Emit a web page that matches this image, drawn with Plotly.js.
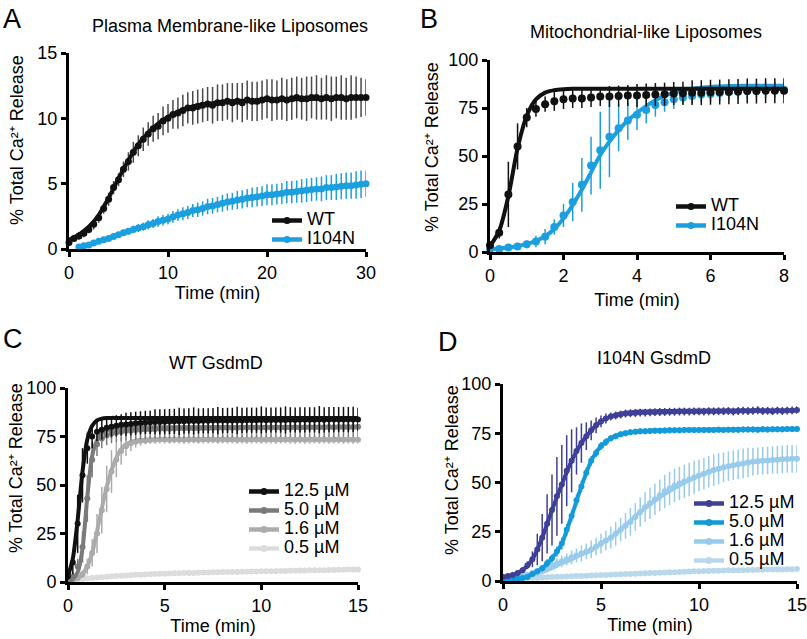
<!DOCTYPE html>
<html><head><meta charset="utf-8">
<script src="https://cdn.plot.ly/plotly-3.0.1.min.js"></script>
<style>html,body{margin:0;padding:0;background:#fff}</style>
</head><body><div id="chart" style="width:807px;height:639px"></div>
<script>
// ---------- Panel A : Plasma Membrane-like Liposomes ----------
const tA = [0,0.5,1,1.5,2,2.5,3,3.5,4,4.5,5,5.5,6,6.5,7,7.5,8,8.5,9,9.5,10,10.5,11,11.5,12,12.5,13,13.5,14,14.5,15,15.5,16,16.5,17,17.5,18,18.5,19,19.5,20,20.5,21,21.5,22,22.5,23,23.5,24,24.5,25,25.5,26,26.5,27,27.5,28,28.5,29,29.5,30];
const aWT = [0.5,0.8,1.0,1.2,1.5,1.9,2.4,3.1,3.8,4.7,
  5.3,6.1,6.7,7.4,7.9,8.4,8.8,9.2,9.4,9.8,
  10.0,10.3,10.4,10.6,10.8,10.8,10.9,11.0,11.1,11.0,
  11.2,11.2,11.3,11.2,11.3,11.2,11.4,11.3,11.3,11.4,
  11.5,11.4,11.4,11.5,11.4,11.5,11.6,11.5,11.5,11.6,
  11.6,11.5,11.6,11.5,11.6,11.6,11.5,11.6,11.6,11.6,
  11.6];
const aWTerr = [0.2,0.2,0.3,0.3,0.3,0.4,0.4,0.4,0.5,0.5,
  0.5,0.6,0.7,0.8,0.8,0.9,0.9,1.0,1.0,1.1,
  1.1,1.1,1.2,1.2,1.2,1.3,1.3,1.3,1.3,1.4,
  1.4,1.4,1.4,1.5,1.4,1.5,1.5,1.5,1.5,1.5,
  1.5,1.6,1.5,1.6,1.6,1.6,1.6,1.6,1.7,1.6,
  1.7,1.6,1.7,1.7,1.6,1.7,1.6,1.7,1.6,1.5,
  1.4];
const aMut = [null,null,
  0.15,0.25,0.3,0.45,0.6,0.7,0.8,0.95,1.1,1.25,
  1.35,1.5,1.6,1.7,1.85,1.95,2.1,2.2,2.3,2.45,
  2.6,2.7,2.8,2.95,3.0,3.1,3.25,3.3,3.4,3.5,
  3.6,3.65,3.75,3.8,3.9,3.95,4.0,4.05,4.15,4.15,
  4.2,4.25,4.35,4.35,4.4,4.45,4.5,4.55,4.6,4.6,
  4.7,4.7,4.75,4.8,4.85,4.85,4.9,4.95,5.0];
const aMutErr = [0,0,
  0.1,0.1,0.1,0.1,0.15,0.15,0.2,0.2,0.2,0.25,
  0.25,0.3,0.3,0.3,0.35,0.35,0.4,0.4,0.4,0.45,
  0.45,0.5,0.5,0.5,0.55,0.55,0.6,0.6,0.6,0.65,
  0.65,0.65,0.7,0.7,0.7,0.75,0.75,0.75,0.8,0.8,
  0.8,0.8,0.85,0.85,0.85,0.9,0.9,0.9,0.9,0.95,
  0.95,0.95,1.0,1.0,1.0,1.0,1.05,1.05,1.0];
const tFitAwt = [0,1,2,3,4,5,6,7,8,9,10,11,12,13,14,15,16,18,20,22,25,30];
const fitAwt  = [0.7,1.1,1.7,2.6,3.9,5.4,6.8,8.0,8.9,9.6,10.1,10.5,10.8,11.0,11.1,11.2,11.3,11.35,11.4,11.45,11.5,11.55];
const tFitAmut = [1,2,3,4,5,6,7,8,9,10,11,12,13,14,15,16,17,18,19,20,22,24,26,28,30];
const fitAmut  = [0.15,0.35,0.6,0.85,1.1,1.35,1.6,1.85,2.1,2.35,2.6,2.8,3.0,3.2,3.4,3.55,3.7,3.85,3.95,4.1,4.35,4.55,4.7,4.85,5.0];

// ---------- Panel B : Mitochondrial-like Liposomes ----------
const tB = [0,0.25,0.5,0.75,1,1.25,1.5,1.75,2,2.25,2.5,2.75,3,3.25,3.5,3.75,4,4.25,4.5,4.75,5,5.25,5.5,5.75,6,6.25,6.5,6.75,7,7.25,7.5,7.75,8];
const bWT = [3.5,10,30,55,70,74.5,77,78.5,79.5,80,80,80.5,81,81,81.2,81.5,81.5,81.8,82,82.2,82.5,82.7,83,83,83.2,83.3,83.5,83.6,83.8,83.8,84,84,84];
const bWTerr = [2,3,17,12,5,4,4,5,5,5,5,5,5,5.5,5.5,5.5,6,6,6,6,6,6,6.5,6.5,6.5,6.5,6.5,6.5,6.5,6.5,6.5,6.5,6.5];
const bWTfit = [3,11,29,54,71,79.5,83,84.3,84.8,85,85,85,85,85,85,85,85,85,85,85,85,85,85,85,85,85,85,85,85,85,85,85,85];
const bMut = [1.5,1.5,2.3,2.8,4,5.5,8,13,19,26,35,45,53,60,64.5,68.5,71.5,74,76.5,78,79.5,80.5,81.3,82,82.3,82.8,83.2,83.5,83.8,84,84.2,84.4,84.5];
const bMutErr = [1,1,1.5,1.5,2,3,4,4,6,10,14,15,20,21,12,10,8,7,6,5,5,4,4,4,4,4,4,4,4,4,4,4,4];
const bMutFit = [1.5,1.8,2.3,3,4.2,5.8,8.2,12,17.5,24.5,32.5,41.5,50.5,57.5,63.5,68.5,72.5,76,79,81.3,83,84.2,85,85.6,86,86.2,86.4,86.5,86.6,86.6,86.6,86.6,86.6];

// ---------- Panels C & D : concentration series ----------
const tCD = [0,0.25,0.5,0.75,1,1.25,1.5,1.75,2,2.25,2.5,2.75,3,3.25,3.5,3.75,4,4.25,4.5,4.75,5,5.25,5.5,5.75,6,6.25,6.5,6.75,7,7.25,7.5,7.75,8,8.25,8.5,8.75,9,9.25,9.5,9.75,10,10.25,10.5,10.75,11,11.25,11.5,11.75,12,12.25,12.5,12.75,13,13.25,13.5,13.75,14,14.25,14.5,14.75,15];
const concLabels = ['12.5 µM','5.0 µM','1.6 µM','0.5 µM'];

const c125 = [3,10,30,55,69,75,77.5,78.5,79.5,80,
  80.5,81,81.2,81.5,81.8,82,82.2,82.3,82.5,82.5,
  82.6,82.7,82.8,82.8,82.9,83,83,83,83.1,83.1,
  83.2,83.2,83.2,83.3,83.3,83.3,83.3,83.4,83.4,83.4,
  83.5,83.4,83.5,83.5,83.5,83.5,83.6,83.5,83.6,83.6,
  83.6,83.6,83.7,83.6,83.7,83.7,83.7,83.8,83.7,83.8,
  83.8];
const c125err = [2,6,15,14,8,6,5,5,5,5.5,
  5.5,5.5,6,6,6,6,6,6,6.5,6.5,
  6.5,6.5,6.5,7,6.5,6.5,7,6.5,6.5,6.5,
  6.5,7,6.5,6.5,6.5,7,6.5,6.5,6.5,6.5,
  7,6.5,6.5,6.5,6.5,7,6.5,6.5,6.5,6.5,
  6.5,6.5,7,6.5,6.5,6.5,6.5,6.5,6.5,6.5,
  6];
const c50 = [1.5,3,8,18,43,63,71,74,75.5,76.5,
  77,77.5,78,78,78.3,78.5,78.6,78.8,78.8,79,
  79,79,79.1,79.2,79.2,79.3,79.3,79.3,79.4,79.4,
  79.4,79.5,79.5,79.5,79.5,79.5,79.6,79.6,79.6,79.6,
  79.6,79.7,79.6,79.7,79.7,79.7,79.7,79.8,79.7,79.8,
  79.8,79.8,79.8,79.8,79.9,79.8,79.9,79.9,79.9,79.9,
  80];
const c50err = [1,2,4,8,12,9,6,5,5,5,
  5,5,5,5,5,5,5,5,5,5,
  5,5,5,5,5,5,5,5,5,5,
  5,5,5,5,5,5,5,5,5,5,
  5,5,5,5,5,5,5,5,5,5,
  5,5,5,5,5,5,5,5,5,5,
  5];
const c16 = [0.5,1,2,4,8,15,25,37,48,57,
  63,67.5,70,71.5,72.3,72.8,73,73.2,73.3,73.4,
  73.4,73.3,73.5,73.4,73.3,73.4,73.5,73.3,73.4,73.4,
  73.5,73.3,73.4,73.4,73.5,73.3,73.4,73.3,73.4,73.5,
  73.3,73.4,73.4,73.3,73.4,73.5,73.4,73.3,73.4,73.3,
  73.4,73.4,73.3,73.4,73.3,73.4,73.4,73.3,73.4,73.3,
  73.3];
const c16err = [0.5,0.5,1,2,4,7,10,12,12,11,
  9,7,5,4,3,2.5,2,2,2,2,
  2,2,2,2,2,2,2,2,2,2,
  2,2,2,2,2,2,2,2,2,2,
  2,2,2,2,2,2,2,2,2,2,
  2,2,2,2,2,2,2,2,2,2,
  2];
const c05 = [0.5,1,1.3,1.6,1.9,2.1,2.3,2.5,2.7,2.9,
  3.1,3.2,3.4,3.5,3.7,3.8,3.9,4.0,4.1,4.2,
  4.3,4.4,4.5,4.5,4.6,4.7,4.7,4.8,4.9,4.9,
  5.0,5.0,5.1,5.1,5.2,5.2,5.3,5.3,5.4,5.4,
  5.5,5.5,5.6,5.6,5.7,5.7,5.8,5.8,5.9,5.9,
  6.0,6.0,6.1,6.1,6.2,6.2,6.3,6.3,6.4,6.4,
  6.5];
const c05err = [0.3,0.3,0.3,0.4,0.4,0.4,0.4,0.5,0.5,0.5,
  0.5,0.5,0.5,0.5,0.5,0.5,0.5,0.5,0.5,0.5,
  0.5,0.5,0.5,0.5,0.5,0.5,0.5,0.5,0.5,0.5,
  0.5,0.5,0.5,0.5,0.5,0.5,0.5,0.5,0.5,0.5,
  0.5,0.5,0.5,0.5,0.5,0.5,0.5,0.5,0.5,0.5,
  0.5,0.5,0.5,0.5,0.5,0.5,0.5,0.5,0.5,0.5,
  0.5];
const tFitC = [0,0.25,0.5,0.75,1,1.25,1.5,1.75,2,2.25,2.5,2.75,3,3.5,4,5,6,8,10,12,15];
const fitC125 = [3,12,32,57,73.5,80.5,83.3,84.2,84.5,84.6,84.6,84.6,84.6,84.6,84.6,84.6,84.6,84.6,84.6,84.6,84.6];
const fitC50  = [0.5,1.5,5,17,44,65,73,76.5,78,78.8,79.2,79.5,79.6,79.7,79.8,79.8,79.8,79.8,79.8,79.8,79.8];
const fitC16  = [0.5,1,2,4,8,15,26,38,49,57.5,64,68.5,71,72.8,73.3,73.5,73.5,73.5,73.5,73.5,73.5];
const fitC05  = [0.5,1,1.3,1.6,1.9,2.1,2.3,2.5,2.7,2.9,3.1,3.2,3.4,3.7,4.0,4.4,4.8,5.2,5.6,6.0,6.5];

const d125 = [2,2.5,3,4,5.5,8,11,16,22,29,
  36,43,49,56,61,66,70,73.5,76.5,79,
  81,82.5,83.5,84,84.5,85,85.2,85.3,85.5,85.5,
  85.6,85.7,85.8,85.8,85.9,85.9,86,86,86,86.1,
  86.1,86,86.2,86.1,86.2,86.2,86.3,86,86.3,86.4,
  86.3,86.4,86.7,86.3,86.4,86.2,86.5,86.3,86.5,86.6,
  86.8];
const d125err = [0.5,0.5,0.5,1,1.5,2,4,8,12,15,
  18,20,20,18,16,12,10,7,5,4,
  3,2.5,2,2,2,2,2,2,2,2,
  2,2,2,2,2,2,2,2,2,2,
  2,2,2,2,2,2,2,2,2,2,
  2,2,2,2,2,2,2,2,2,2,
  2];
const d50 = [0.5,0.8,1,1.2,1.5,2,3.5,5,6.5,9,
  11.5,15,19,26,33,41,48,55,61,65,
  68.5,70.5,72.5,73.5,74.5,75,75.5,75.8,76,76,
  76.2,76.3,76.3,76.4,76.5,76.5,76.5,76.6,76.6,76.6,
  76.7,76.6,76.7,76.7,76.8,76.7,76.8,76.8,76.8,76.9,
  76.9,76.9,76.8,77,76.9,77,77,77,77.1,77.1,
  77.2];
const d50err = [0.3,0.3,0.3,0.5,0.5,0.5,1,1,1.5,2,
  2,2.5,3,3,3,3,3,2.5,2.5,2,
  2,2,1.5,1.5,1.5,1.5,1.5,1.5,1.5,1.5,
  1.5,1.5,1.5,1.5,1.5,1.5,1.5,1.5,1.5,1.5,
  1.5,1.5,1.5,1.5,1.5,1.5,1.5,1.5,1.5,1.5,
  1.5,1.5,1.5,1.5,1.5,1.5,1.5,1.5,1.5,1.5,
  1.5];
const d16 = [1,1.3,1.8,2.2,2.6,3.2,4,4.8,5.8,6.8,
  8,9,10,11,12,13,14,15,16,17.5,
  19,20.5,22,24,26,28,30,32.5,35,37.5,
  39.5,41.5,43.5,45.5,47,48.5,49.5,50.5,51.5,52.5,
  53.5,54.5,55.5,56.3,57,57.7,58.3,58.8,59.3,59.7,
  60.2,60.5,60.8,61,61.2,61.4,61.6,61.8,61.9,62,
  62];
const d16err = [0.5,0.5,0.5,1,1,1,1.5,1.5,2,2,
  2.5,2.5,3,3,3.5,3.5,4,4,4.5,4.5,
  5,5,5.5,6,6,6.5,7,7,7.5,7.5,
  8,8,8,8.5,8.5,8.5,8.5,8.5,8.5,8.5,
  8,8,8,8,8,7.5,7.5,7.5,7.5,7.5,
  7.5,7,7,7,7,7,7,7,7,7,
  7];
const d05 = [1,1.1,1.2,1.3,1.4,1.5,1.6,1.7,1.8,1.9,
  2,2.1,2.2,2.3,2.4,2.5,2.6,2.7,2.8,2.9,
  3,3.1,3.2,3.3,3.4,3.5,3.6,3.7,3.8,3.9,
  4,4.1,4.2,4.3,4.4,4.5,4.6,4.7,4.8,4.9,
  5,5.1,5.1,5.2,5.2,5.3,5.4,5.4,5.5,5.5,
  5.6,5.6,5.7,5.7,5.8,5.8,5.9,5.9,6,6,
  6.1];
const d05err = [0.3,0.3,0.3,0.3,0.3,0.4,0.4,0.4,0.4,0.4,
  0.5,0.5,0.5,0.5,0.5,0.5,0.5,0.5,0.5,0.5,
  0.5,0.5,0.5,0.5,0.5,0.5,0.5,0.5,0.5,0.5,
  0.5,0.5,0.5,0.5,0.5,0.5,0.5,0.5,0.5,0.5,
  0.5,0.5,0.5,0.5,0.5,0.5,0.5,0.5,0.5,0.5,
  0.5,0.5,0.5,0.5,0.5,0.5,0.5,0.5,0.5,0.5,
  0.5];
const tFitD = [0,0.5,1,1.5,2,2.5,3,3.5,4,4.5,5,5.5,6,6.5,7,8,9,10,11,12,13,14,15];
const fitD125 = [2,3,5.5,11,22,36,49,61,70,76.5,81,83.5,85,85.6,86,86.3,86.4,86.5,86.5,86.5,86.5,86.5,86.5];
const fitD50  = [0.5,0.8,1.5,3.5,6.5,11.5,19,33,48,61,68.5,72.5,74.5,75.5,76,76.5,76.7,76.8,76.9,77,77,77,77];
const fitD16  = [1,1.5,2.2,3,4.5,6.5,9,11,13.5,15.5,19,22,26,30.5,35,42.5,48.5,53.5,57,59.3,60.8,61.6,62];
const fitD05  = [1,1.2,1.4,1.6,1.8,2,2.2,2.4,2.6,2.8,3,3.2,3.4,3.6,3.8,4.2,4.6,5,5.3,5.5,5.7,5.9,6.1];

// ---------- styling ----------
const BLACK = '#111111', BLUE = '#1b9fdf';
const greyC = ['#111111','#7a7a7a','#ababab','#dcdcdc'];
const blueD = ['#3e3f96','#129bd8','#98cbec','#b9d8ec'];
const Y_TITLE = '% Total Ca²⁺ Release';

function dataTrace(ax, t, y, err, color, ecolor, size) {
  return {type:'scatter', mode:'markers', x:t, y:y, xaxis:'x'+ax, yaxis:'y'+ax,
    marker:{color:color, size:size}, cliponaxis:false, showlegend:false, hoverinfo:'skip',
    error_y:{type:'data', array:err, visible:true, color:ecolor, thickness:1.5, width:0}};
}
function fitTrace(ax, t, y, color, w) {
  return {type:'scatter', mode:'lines', x:t, y:y, xaxis:'x'+ax, yaxis:'y'+ax,
    line:{color:color, width:w, shape:'spline', smoothing:0.7}, showlegend:false, hoverinfo:'skip', cliponaxis:false};
}
function legendTrace(ax, name, color, leg, size) {
  return {type:'scatter', mode:'lines+markers', x:[null], y:[null], xaxis:'x'+ax, yaxis:'y'+ax,
    name:'<span style="font-size:18px">'+name+'</span>', legend:leg,
    line:{color:color, width:4.5}, marker:{color:color, size:size}, showlegend:true, hoverinfo:'skip'};
}

const traces = [];
// A
traces.push(dataTrace('', tA, aMut, aMutErr, BLUE, BLUE, 7));
traces.push(fitTrace('', tFitAmut, fitAmut, BLUE, 4));
traces.push(dataTrace('', tA, aWT, aWTerr, BLACK, '#4a4a4a', 7));
traces.push(fitTrace('', tFitAwt, fitAwt, BLACK, 4));
traces.push(legendTrace('', 'WT', BLACK, 'legend', 7));
traces.push(legendTrace('', 'I104N', BLUE, 'legend', 7));
// B
traces.push(dataTrace('2', tB, bMut, bMutErr, BLUE, BLUE, 8));
traces.push(fitTrace('2', tB, bMutFit, BLUE, 4));
traces.push(dataTrace('2', tB, bWT, bWTerr, BLACK, BLACK, 8));
traces.push(fitTrace('2', tB, bWTfit, BLACK, 4));
traces.push(legendTrace('2', 'WT', BLACK, 'legend2', 7));
traces.push(legendTrace('2', 'I104N', BLUE, 'legend2', 7));
// C (lightest drawn first)
const cSeries = [[c125,c125err,fitC125],[c50,c50err,fitC50],[c16,c16err,fitC16],[c05,c05err,fitC05]];
for (let i = 3; i >= 0; i--) {
  traces.push(dataTrace('3', tCD, cSeries[i][0], cSeries[i][1], greyC[i], greyC[i], 6));
  traces.push(fitTrace('3', tFitC, cSeries[i][2], greyC[i], 4));
}
for (let i = 0; i < 4; i++) traces.push(legendTrace('3', concLabels[i], greyC[i], 'legend3', 7));
// D
const dSeries = [[d125,d125err,fitD125],[d50,d50err,fitD50],[d16,d16err,fitD16],[d05,d05err,fitD05]];
for (let i = 3; i >= 0; i--) {
  traces.push(dataTrace('4', tCD, dSeries[i][0], dSeries[i][1], blueD[i], blueD[i], 6));
  traces.push(fitTrace('4', tFitD, dSeries[i][2], blueD[i], 4));
}
for (let i = 0; i < 4; i++) traces.push(legendTrace('4', concLabels[i], blueD[i], 'legend4', 7));

const W = 807, H = 639;
const px = v => v / W, py = v => 1 - v / H;
const axBase = {showline:true, linecolor:'#000', linewidth:3, ticks:'outside', ticklen:5, tickwidth:3,
  tickcolor:'#000', showgrid:false, zeroline:false, tickfont:{size:18, color:'#000'}, automargin:false,
  fixedrange:true, ticklabeloverflow:'allow'};
const xTitle = (s) => ({text:'Time (min)', font:{size:18, color:'#000'}, standoff:s});

const legBase = {xanchor:'left', yanchor:'top', bgcolor:'rgba(0,0,0,0)', borderwidth:0,
  font:{size:12, color:'#000'}, itemwidth:30, tracegroupgap:0, itemclick:false, itemdoubleclick:false};

function note(text, x, y, size, angle) {
  return {text:text, x:px(x), y:py(y), xref:'paper', yref:'paper', showarrow:false,
    font:{size:size, color:'#000'}, xanchor:'center', yanchor:'middle', textangle:angle || 0};
}

const layout = {
  width:W, height:H, margin:{l:0, r:0, t:0, b:0}, paper_bgcolor:'#fff', plot_bgcolor:'rgba(0,0,0,0)',
  font:{family:'Liberation Sans, Arial, sans-serif', color:'#000'},
  showlegend:true, hovermode:false,
  xaxis: Object.assign({}, axBase, {domain:[px(69), px(366)], range:[0,30], tickvals:[0,10,20,30], anchor:'y', title:xTitle(5)}),
  yaxis: Object.assign({}, axBase, {domain:[py(249), py(53)], range:[0,15], tickvals:[0,5,10,15], anchor:'x'}),
  xaxis2: Object.assign({}, axBase, {domain:[px(490), px(784)], range:[0,8], tickvals:[0,2,4,6,8], anchor:'y2', title:xTitle(9)}),
  yaxis2: Object.assign({}, axBase, {domain:[py(252), py(60)], range:[0,100], tickvals:[0,25,50,75,100], anchor:'x2'}),
  xaxis3: Object.assign({}, axBase, {domain:[px(68), px(358)], range:[0,15], tickvals:[0,5,10,15], anchor:'y3', title:xTitle(0)}),
  yaxis3: Object.assign({}, axBase, {domain:[py(582), py(388)], range:[0,100], tickvals:[0,25,50,75,100], anchor:'x3'}),
  xaxis4: Object.assign({}, axBase, {domain:[px(503), px(797)], range:[0,15], tickvals:[0,5,10,15], anchor:'y4', title:xTitle(5)}),
  yaxis4: Object.assign({}, axBase, {domain:[py(581), py(384)], range:[0,100], tickvals:[0,25,50,75,100], anchor:'x4'}),
  legend:  Object.assign({}, legBase, {x:px(267), y:py(206)}),
  legend2: Object.assign({}, legBase, {x:px(671), y:py(192)}),
  legend3: Object.assign({}, legBase, {x:px(244), y:py(477)}),
  legend4: Object.assign({}, legBase, {x:px(689), y:py(489)}),
  annotations: [
    note('A', 12, 19, 27), note('B', 429, 19, 27), note('C', 13, 339, 27), note('D', 448, 342, 27),
    note('Plasma Membrane-like Liposomes', 230, 26, 18),
    note('Mitochondrial-like Liposomes', 646, 32, 18),
    note('WT GsdmD', 216, 363, 18),
    note('I104N GsdmD', 654, 358, 18),
    note(Y_TITLE, 17, 140, 18, -90),
    note(Y_TITLE, 432, 147, 18, -90),
    note(Y_TITLE, 16, 468, 18, -90),
    note(Y_TITLE, 452, 470, 18, -90)
  ]
};

Plotly.newPlot('chart', traces, layout, {staticPlot:true, displayModeBar:false});
</script></body></html>
